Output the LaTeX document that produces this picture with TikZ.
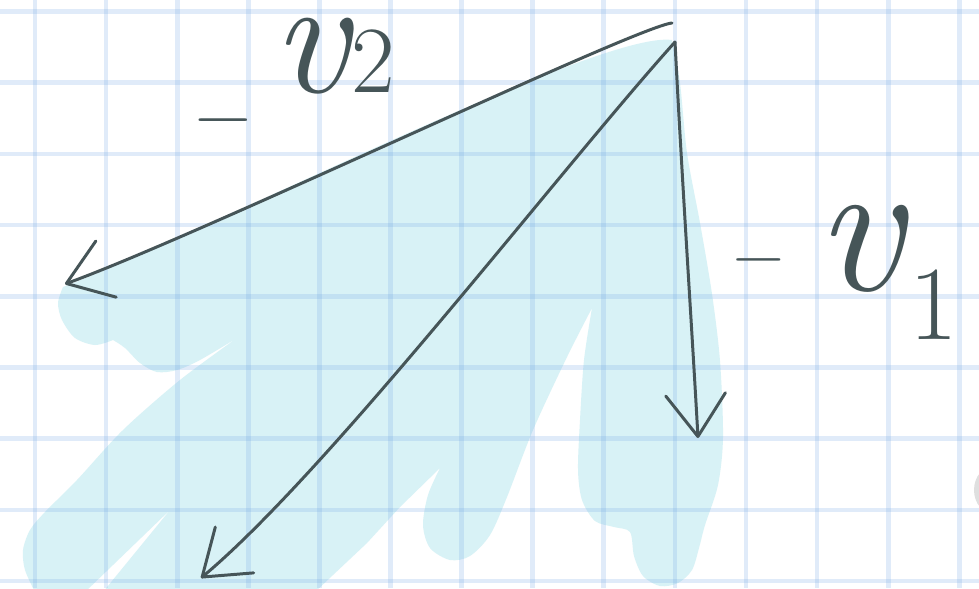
\documentclass[tikz,border=0pt]{standalone}
\usepackage{fontspec}
\usepackage{tikz}
\definecolor{ink}{RGB}{70, 85, 88}
\definecolor{washcyan}{RGB}{216, 242, 246}
\definecolor{gridblue}{RGB}{116, 168, 228}
\usetikzlibrary{arrows.meta}
\tikzset{
	gridline/.style={line width=2.7pt, draw=gridblue, draw opacity=0.22},
	wash/.style={fill=washcyan},
	vec/.style={-{Straight Barb[length=24pt, width=34pt, round]}, line width=1.7pt, draw=ink, line cap=round},
	lbl/.style={text=ink, inner sep=0pt, anchor=base west},
}
\begin{document}
\begin{tikzpicture}[x=0.02cm, y=-0.02cm]
		\useasboundingbox (0,0) rectangle (979,588);
		\clip (0,0) rectangle (979,588);
		\fill[white] (0,0) rectangle (979,588);
		\fill[wash] (672,40) -- plot[smooth, tension=0.5] coordinates {(672,40) (680,83) (687,153) (700,223) (712,294) (720,361) (723,437) (718,485) (705,525) (699,548) (692,570) (678,583) (660,586) (643,576) (634,556) (630,532) (614,527) (595,521) (582,500) (578,470) (580,420) (584,360) (592,308)}
			-- plot[smooth, tension=0.5] coordinates {(592,308) (567,357) (533,430) (507,497) (490,535) (470,556) (450,560) (430,548) (423,525) (428,495) (440,468)}
			-- (400,507) -- (367,543) -- (333,575) -- (315,592) -- (103,592) -- (170,510) -- (85,592) -- (35,592)
			-- plot[smooth, tension=0.5] coordinates {(35,592) (25,570) (23,550) (30,530) (45,512) (77,480) (123,430) (180,380) (237,338)}
			-- plot[smooth, tension=0.5] coordinates {(237,338) (200,360) (177,370) (157,372) (140,363) (125,348) (113,340)}
			-- plot[smooth, tension=0.5] coordinates {(113,340) (95,345) (75,338) (62,320) (58,303) (63,287)}
			.. controls (200,235) and (600,30) .. (672,40) -- cycle;
		\foreach \gx in {0,...,13}
			\draw[gridline] ({35+71.1*\gx},0) -- ({35+71.1*\gx},588);
		\foreach \gy in {0,...,8}
			\draw[gridline] (0,{11.5+71.2*\gy}) -- (979,{11.5+71.2*\gy});
		\fill[gray!25] (994,490) ellipse [x radius=20, y radius=24];
		\coordinate (apex) at (675,42);
		\coordinate (top2) at (672,23);
		\coordinate (tip2) at (65,284);
		\coordinate (tipsum) at (201,578);
		\coordinate (tip1) at (698,438);
		\draw[vec] (top2) .. controls (635,27) and (200,235) .. (tip2);
		\draw[vec] (apex) .. controls (560,170) and (330,470) .. (tipsum);
		\draw[vec] (apex) .. controls (682,180) and (692,330) .. (tip1);
		\node[lbl] (labv2) at (195,92) {{\fontsize{44}{44}\selectfont\raisebox{-27pt}{−}}\hspace{12pt}{\fontsize{96}{96}\selectfont\itshape v}\hspace{2pt}{\fontsize{54}{54}\selectfont 2}};
		\node[lbl] (labv1) at (733,290) {{\fontsize{40}{40}\selectfont\raisebox{7pt}{−}}\hspace{18pt}{\fontsize{110}{110}\selectfont\itshape v}\hspace{4pt}{\fontsize{60}{60}\selectfont\raisebox{-28pt}{1}}};
	\end{tikzpicture}
\end{document}
